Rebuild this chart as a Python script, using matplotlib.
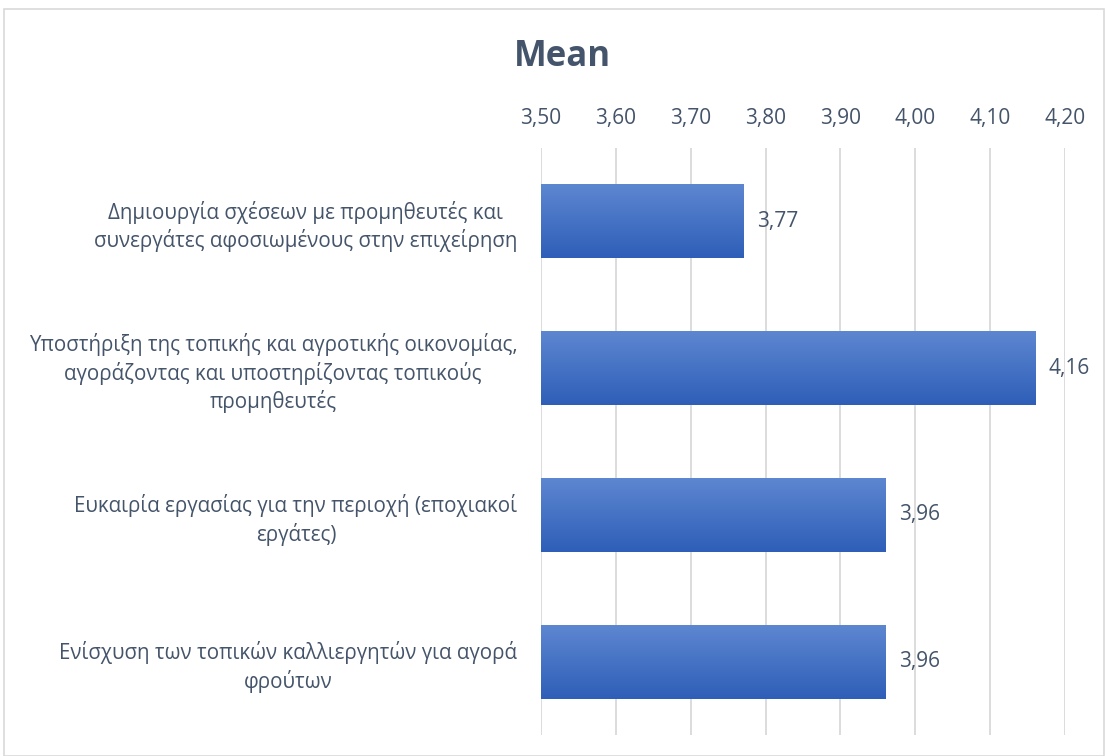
import numpy as np
import matplotlib.pyplot as plt
from matplotlib.patches import Rectangle

plt.rcParams['font.family'] = ['Open Sans', 'DejaVu Sans']

categories = [
    "Δημιουργία σχέσεων με προμηθευτές και\nσυνεργάτες αφοσιωμένους στην επιχείρηση",
    "Υποστήριξη της τοπικής και αγροτικής οικονομίας,\nαγοράζοντας και υποστηρίζοντας τοπικούς\nπρομηθευτές",
    "Ευκαιρία εργασίας για την περιοχή (εποχιακοί\nεργάτες)",
    "Ενίσχυση των τοπικών καλλιεργητών για αγορά\nφρούτων",
]
means = [3.77, 4.16, 3.96, 3.96]
ticks = [3.5, 3.6, 3.7, 3.8, 3.9, 4.0, 4.1, 4.2]

text_col = '#44546A'
top_col = np.array([0.37, 0.53, 0.82])
bot_col = np.array([0.18, 0.37, 0.72])

fig = plt.figure(figsize=(11.05, 7.56), dpi=100)
fig.patches.append(Rectangle((4 / 1105, 0), 1 - 5 / 1105, 1 - 9 / 756, transform=fig.transFigure,
                             fill=False, edgecolor='#D9D9D9', linewidth=1.2))
ax = fig.add_axes([541 / 1105, 1 - 735 / 756, (1065 - 541) / 1105, (735 - 148) / 756])

y = np.arange(len(categories))
bars = ax.barh(y, np.array(means) - 3.5, left=3.5, height=0.505, color='none', zorder=3)

# vertical gradient fill clipped to each bar
grad = np.linspace(0, 1, 100)[:, None, None]
img = top_col * (1 - grad) + bot_col * grad
for b in bars:
    x0, y0 = b.get_x(), b.get_y()
    w, h = b.get_width(), b.get_height()
    im = ax.imshow(img, extent=[x0, x0 + w, y0 + h, y0], aspect='auto', zorder=3, interpolation='bilinear')
    im.set_clip_path(b)

for yi, v in zip(y, means):
    ax.annotate(f"{v:.2f}".replace('.', ','), (v, yi), xytext=(10, 0), textcoords='offset points',
                va='center', ha='left', fontsize=15, color=text_col)

ax.set_xlim(3.5, 4.2)
ax.set_ylim(3.5, -0.5)
ax.set_xticks(ticks)
ax.set_xticklabels([f"{t:.2f}".replace('.', ',') for t in ticks])
ax.xaxis.tick_top()
ax.tick_params(axis='x', length=0, pad=14, labelsize=15, labelcolor=text_col)
ax.set_yticks(y)
ax.set_yticklabels(categories, multialignment='center', linespacing=1.3)
ax.tick_params(axis='y', length=0, pad=17, labelsize=14.8, labelcolor=text_col)
ax.grid(axis='x', color='#D9D9D9', linewidth=1.3, zorder=0)
ax.set_axisbelow(True)
for s in ax.spines.values():
    s.set_visible(False)

fig.text(562 / 1105, 1 - 57 / 756, "Mean", ha='center', va='center', fontsize=25,
         fontweight='bold', color=text_col)

fig.savefig('out.png', dpi=100)
